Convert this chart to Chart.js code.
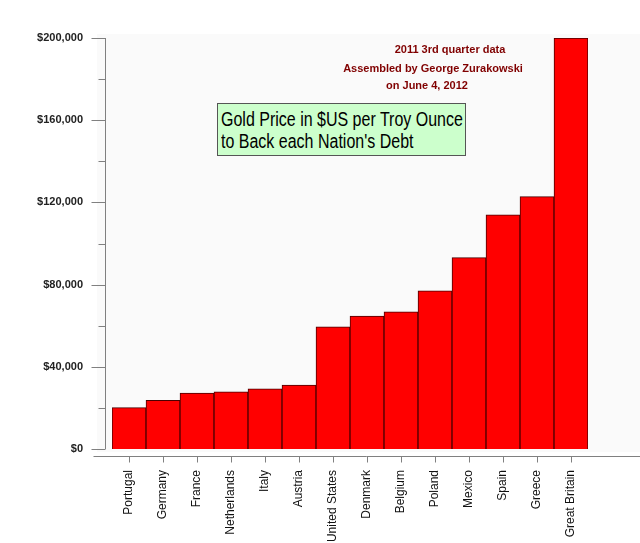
<!DOCTYPE html>
<html>
<head>
<meta charset="utf-8">
<script src="https://cdn.jsdelivr.net/npm/chart.js@4.4.1/dist/chart.umd.min.js"></script>
<style>
  html, body { margin: 0; padding: 0; background: #ffffff; }
  #wrap { position: relative; width: 640px; height: 543px; }
  canvas { display: block; }
  .note { position: absolute; font-family: "Liberation Sans", Arial, sans-serif; font-weight: bold; font-size: 11px; color: #800000; white-space: nowrap; transform: translate(-50%, -50%); }
  #titlebox { position: absolute; left: 217px; top: 103px; width: 247px; height: 51px; background: #ccffcc; border: 1px solid #555555; color: #000; box-sizing: content-box; overflow: hidden; }
  #titlebox div { white-space: nowrap; font-family: "Liberation Sans", Arial, sans-serif; font-size: 20px; line-height: 22px; transform: scaleX(0.80); transform-origin: 0 0; margin-left: 3px; }
</style>
</head>
<body>
<div id="wrap">
  <canvas id="c" width="640" height="543"></canvas>
  <div class="note" style="left:450px; top:49px;">2011 3rd quarter data</div>
  <div class="note" style="left:433px; top:68px;">Assembled by George Zurakowski</div>
  <div class="note" style="left:427px; top:85px;">on June 4, 2012</div>
  <div id="titlebox"><div style="margin-top:4px;">Gold Price in $US per Troy Ounce</div><div>to Back each Nation's Debt</div></div>
</div>
<script>
const countries = ["Portugal", "Germany", "France", "Netherlands", "Italy", "Austria", "United States", "Denmark", "Belgium", "Poland", "Mexico", "Spain", "Greece", "Great Britain"];
const goldPrice = [20100, 23700, 27200, 27800, 29300, 31100, 59400, 64700, 66700, 77000, 93100, 113900, 122800, 200000];
const yMin = 0;
const yMax = 200000;
const yStep = 20000;
const yLabelStep = 40000;

const axisPlugin = {
  id: 'axisPlugin',
  beforeDraw(chart) {
    const ctx = chart.ctx;
    ctx.save();
    ctx.fillStyle = '#fafafa';
    ctx.fillRect(97, 34, 640 - 97, 452 - 34);
    ctx.restore();
  },
  afterDraw(chart) {
    const ctx = chart.ctx;
    const a = chart.chartArea;
    const ys = chart.scales.y;
    const xs = chart.scales.x;
    ctx.save();
    ctx.strokeStyle = '#808080';
    ctx.lineWidth = 1;
    const ax = a.left - 6.5;
    ctx.beginPath();
    ctx.moveTo(ax, ys.getPixelForValue(yMax));
    ctx.lineTo(ax, ys.getPixelForValue(yMin));
    ctx.stroke();
    for (let v = yMin; v <= yMax; v += yStep) {
      const py = Math.round(ys.getPixelForValue(v)) + 0.5;
      const len = (v % yLabelStep === 0) ? 14 : 7;
      ctx.beginPath();
      ctx.moveTo(ax - len, py);
      ctx.lineTo(ax, py);
      ctx.stroke();
    }
    const bx = Math.round(a.bottom) + 7.5;
    ctx.beginPath();
    ctx.moveTo(ax - 12, bx);
    ctx.lineTo(chart.width, bx);
    ctx.stroke();
    for (let i = 0; i < countries.length; i++) {
      const px = Math.round(xs.getPixelForValue(i)) + 0.5;
      ctx.beginPath();
      ctx.moveTo(px, bx);
      ctx.lineTo(px, bx + 6);
      ctx.stroke();
    }
    ctx.restore();
  }
};

new Chart(document.getElementById('c'), {
  type: 'bar',
  data: {
    labels: countries,
    datasets: [{
      data: goldPrice,
      backgroundColor: '#ff0000',
      borderColor: '#4a0000',
      borderWidth: 1,
      categoryPercentage: 1.0,
      barPercentage: 1.0
    }]
  },
  options: {
    responsive: false,
    animation: false,
    devicePixelRatio: 1,
    layout: { padding: { left: 0, right: 52, top: 38, bottom: 0 } },
    plugins: { legend: { display: false }, tooltip: { enabled: false }, title: { display: false } },
    scales: {
      x: {
        type: 'category',
        offset: true,
        grid: { display: false, drawTicks: false },
        border: { display: false },
        afterFit(s) { s.height = 94; },
        ticks: {
          minRotation: 90, maxRotation: 90, padding: 21, autoSkip: false,
          color: '#111111',
          font: { family: '"Liberation Sans", Arial, sans-serif', size: 12 }
        }
      },
      y: {
        min: yMin, max: yMax,
        grid: { display: false, drawTicks: false },
        border: { display: false },
        afterFit(s) { s.width = 112; },
        ticks: {
          stepSize: yLabelStep,
          padding: 29,
          color: '#222222',
          font: { family: '"Liberation Sans", Arial, sans-serif', size: 11, weight: 'bold' },
          callback: v => '$' + Number(v).toLocaleString('en-US')
        }
      }
    }
  },
  plugins: [axisPlugin]
});
</script>
</body>
</html>
